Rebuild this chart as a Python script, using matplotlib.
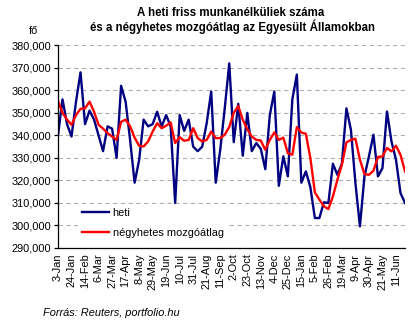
import matplotlib
matplotlib.use("Agg")
import matplotlib.pyplot as plt
from matplotlib.ticker import FuncFormatter, MultipleLocator

plt.rcParams['font.family'] = ['Liberation Sans', 'DejaVu Sans']

title_line1 = "A heti friss munkanélküliek száma"
title_line2 = "és a négyhetes mozgóátlag az Egyesült Államokban"
y_unit = "fő"
source = "Forrás: Reuters, portfolio.hu"
series_names = ["heti", "négyhetes mozgóátlag"]

tick_labels = ["3-Jan", "24-Jan", "14-Feb", "6-Mar", "27-Mar", "17-Apr", "8-May",
               "29-May", "19-Jun", "10-Jul", "31-Jul", "21-Aug", "11-Sep", "2-Oct",
               "23-Oct", "13-Nov", "4-Dec", "25-Dec", "15-Jan", "5-Feb", "26-Feb",
               "19-Mar", "9-Apr", "30-Apr", "21-May", "11-Jun"]

heti = [340000, 356000, 345000, 339500, 355000, 368000, 345000, 351000, 347000, 340000,
        333000, 344000, 343000, 330000, 362000, 355000, 338000, 319000, 329000, 347000,
        344000, 345000, 350500, 344000, 349000, 344000, 310000, 349000, 342000, 347000,
        335000, 333000, 335000, 345500, 359500, 319000, 333600, 352000, 372000, 337000,
        354000, 331000, 350000, 333000, 336600, 334000, 325000, 349000, 359500, 317600,
        330700, 321800, 356000, 367000, 319000, 324000, 317000, 303300, 303300, 310300,
        310000, 327400, 322500, 327400, 352000, 342500, 318800, 299600, 321800, 330700,
        340300, 321800, 325500, 350600, 337300, 329200, 314400, 310000]

mozgoatlag = [355300, 350000, 347000, 344700, 349000, 351800, 352000, 355000, 350500, 344700,
              343000, 341000, 339500, 338000, 346000, 347000, 344000, 339000, 335400, 335100,
              337300, 341700, 345400, 343200, 344300, 345700, 336600, 339200, 337600, 338000,
              343200, 338800, 337300, 338000, 341700, 338800, 338800, 340300, 343700, 350000,
              353100, 346900, 342800, 339500, 338000, 337700, 333600, 338000, 341300, 338000,
              339000, 332100, 331400, 343700, 341300, 340700, 329900, 314700, 311500, 308500,
              307300, 312900, 320300, 327000, 336900, 338000, 338500, 329200, 322800, 322500,
              324300, 330400, 330700, 334400, 332900, 335400, 331400, 324000]

label_step = 3
y_min, y_max, y_step = 290000, 380000, 10000

W, H = 413, 327
fig = plt.figure(figsize=(W / 100, H / 100), dpi=100)
ax = fig.add_axes([58 / W, 1 - 248 / H, (405 - 58) / W, (248 - 45.3) / H])

x = list(range(len(heti)))
ax.plot(x, heti, color='#000080', lw=1.7, label=series_names[0], solid_joinstyle='round')
ax.plot(x, mozgoatlag, color='#ff0000', lw=1.7, label=series_names[1], solid_joinstyle='round')

ax.set_xlim(0, len(heti) - 1)
ax.set_ylim(y_min, y_max)
ax.yaxis.set_major_locator(MultipleLocator(y_step))
ax.yaxis.set_major_formatter(FuncFormatter(lambda v, p: f"{int(v):,}"))
ax.set_xticks(list(range(0, label_step * len(tick_labels), label_step)))
ax.set_xticklabels(tick_labels, rotation=90, va='top', ha='center')

ax.grid(axis='y', color='#b0b0b0', lw=0.8, linestyle=(0, (4, 3)))
ax.set_axisbelow(True)
for s in ['top', 'right']:
    ax.spines[s].set_visible(False)
for s in ['left', 'bottom']:
    ax.spines[s].set_color('black')
    ax.spines[s].set_linewidth(0.9)
ax.tick_params(axis='y', length=3, width=0.9, pad=2, labelsize=7.9, direction='out')
ax.tick_params(axis='x', length=0, pad=4, labelsize=7.9)

leg = ax.legend(loc='upper left', bbox_to_anchor=(78 / W, 1 - 204 / H),
                bbox_transform=fig.transFigure, frameon=True, fontsize=7.9,
                handlelength=2.5, handletextpad=0.3, labelspacing=0.95,
                borderpad=0.35, borderaxespad=0, fancybox=False)
leg.get_frame().set_facecolor('white')
leg.get_frame().set_edgecolor('none')
leg.get_frame().set_alpha(1)

fig.text(231 / W, 1 - 13 / H, title_line1, ha='center', va='center', fontsize=8.3, fontweight='bold')
fig.text(233 / W, 1 - 27 / H, title_line2, ha='center', va='center', fontsize=8.3, fontweight='bold')
fig.text(33 / W, 1 - 31 / H, y_unit, ha='center', va='center', fontsize=7.9)
fig.text(43 / W, 1 - 313 / H, source, ha='left', va='center', fontsize=7.9, style='italic')

fig.savefig("out.png", dpi=100)
